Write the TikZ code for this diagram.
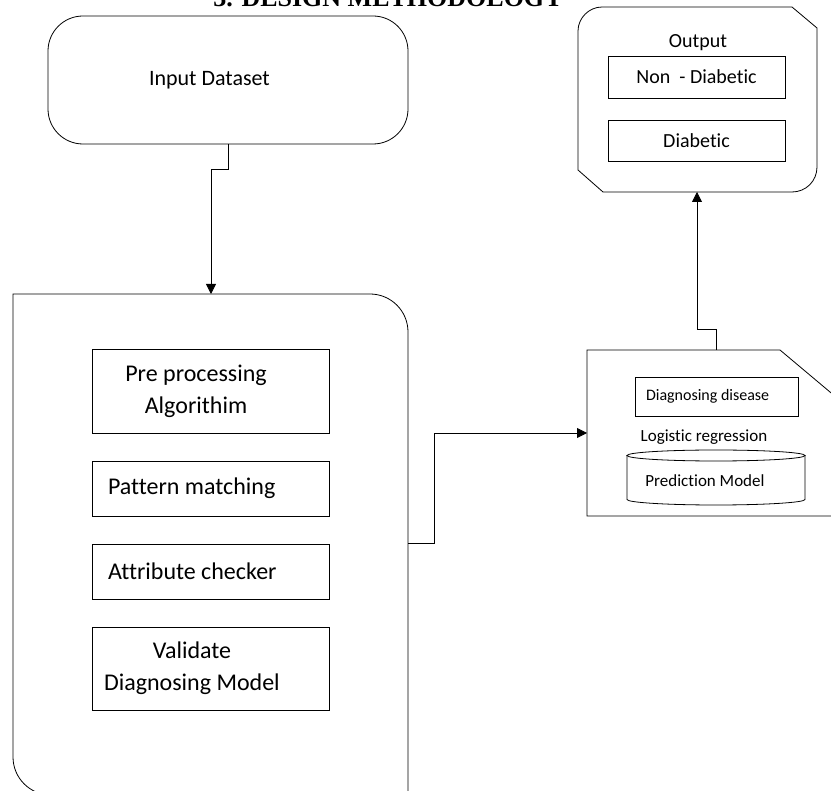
\documentclass[tikz,border=0pt]{standalone}
\usepackage{fontspec}
\setmainfont{Carlito}[Ligatures=NoCommon]
\newfontfamily\headfont{Liberation Serif}
\usetikzlibrary{arrows.meta}
\newcommand\midline[1]{\makebox[176pt]{#1}}

\begin{document}
\begin{tikzpicture}[x=1pt,y=-1pt,line width=.8pt,
	box/.style={draw,inner sep=0pt},
	procbox/.style={box,minimum width=237pt,inner xsep=16pt,text width=205pt,align=flush left,font=\fontsize{24}{32}\selectfont},
	flow/.style={-{Triangle[length=10pt,width=10pt]}}]
	\useasboundingbox (0,0) rectangle (831,791);
	\clip (0,0) rectangle (831,791);

	\node[anchor=base west,inner sep=0pt,font=\headfont\bfseries\fontsize{26}{30}\selectfont] (title) at (213,7) {3. DESIGN METHODOLOGY};

	\node[draw,rounded corners=35pt,minimum width=360pt,minimum height=128pt,inner xsep=101pt,text width=158pt,align=flush left,font=\fontsize{22}{26}\selectfont] (input) at (228,80) {Input Dataset};

	% processing block
	\draw (13,294) -- (370,294) .. controls (391,294) and (408,311) .. (408,332) -- (408,795) -- (51,795) .. controls (30,795) and (13,778) .. (13,757) -- cycle;
	\coordinate (core in) at (211,294); \coordinate (core out) at (408,543);
	\node[procbox,minimum height=84pt] (preproc) at (210.5,391) {\midline{Pre processing}\\\midline{Algorithim}};
	\node[procbox,minimum height=55pt] (pattern) at (210.5,488.5) {Pattern matching};
	\node[procbox,minimum height=55pt] (attrib) at (210.5,571.5) {Attribute checker};
	\node[procbox,minimum height=83pt,inner xsep=12pt,text width=213pt] (validate) at (210.5,668.5) {\midline{Validate}\\Diagnosing Model};

	% diagnosing block
	\draw (587,350) -- (780,350) -- (880,434) -- (880,516) -- (587,516) -- cycle;
	\coordinate (doc in) at (587,433); \coordinate (doc out) at (716,350);
	\node[box,minimum width=163pt,minimum height=39pt,inner xsep=11pt,text width=141pt,align=flush left,font=\fontsize{16}{19}\selectfont] (diag) at (716.5,396.5) {Diagnosing disease};
	\node[font=\fontsize{17}{20}\selectfont] (logit) at (704,437) {Logistic regression};
	\draw (716,455.5) ellipse [x radius=89pt,y radius=5.5pt];
	\draw (627,455.5) -- (627,499.5) .. controls (627,502.5) and (667,505) .. (716,505) .. controls (765,505) and (805,502.5) .. (805,499.5) -- (805,455.5);
	\node[font=\fontsize{17}{20}\selectfont] (pred) at (705,481) {Prediction Model};

	% output block
	\draw (602,7) -- (792,7) -- (817,28) -- (817,167) .. controls (817,181) and (806,192) .. (792,192) -- (603,192) -- (578,170) -- (578,31) .. controls (578,18) and (589,7) .. (602,7) -- cycle;
	\coordinate (out in) at (697,192);
	\node[font=\fontsize{20}{24}\selectfont] (outlabel) at (698,43) {Output};
	\node[box,minimum width=177pt,minimum height=42pt,font=\fontsize{20}{24}\selectfont] (nondiab) at (696.5,77) {Non\ \ - Diabetic};
	\node[box,minimum width=177pt,minimum height=41pt,font=\fontsize{20}{24}\selectfont] (diab) at (696.5,140.5) {Diabetic};

	\draw[flow] (input.south) -- ++(0,25) -| (core in);
	\draw[flow] (core out) -- ++(26,0) |- (doc in);
	\draw[flow] (doc out) -- ++(0,-21) -| (out in);
\end{tikzpicture}
\end{document}
